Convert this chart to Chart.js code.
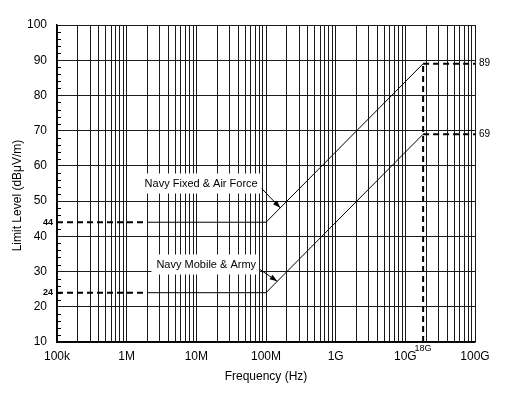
<!DOCTYPE html>
<html>
<head>
<meta charset="utf-8">
<script src="https://cdn.jsdelivr.net/npm/chart.js@4.4.0/dist/chart.umd.min.js"></script>
<style>
  html, body { margin: 0; padding: 0; background: #fff; }
  #wrap { width: 514px; height: 409px; }
</style>
</head>
<body>
<div id="wrap"><canvas id="limitChart"></canvas></div>
<script>
// frequency break points (Hz) and limit levels (dBuV/m)
const freqBreaks = [1e5, 2e6, 1e8, 1.8e10, 1e11];
const fixedLimit = [44, 44, 44, 89, 89];
const mobileLimit = [24, 24, 24, 69, 69];
const edgeFreq = 1.8e10;
const edgeLevels = [10, 89];

const xMajor = [1e5, 1e6, 1e7, 1e8, 1e9, 1e10, 1e11];
const xMajorLabels = ['100k', '1M', '10M', '100M', '1G', '10G', '100G'];

const leftMarks = [44, 24];
const rightMarks = [89, 69];

const seriesNames = ['Navy Fixed & Air Force', 'Navy Mobile & Army'];

const FONT = "'Liberation Sans', Arial, sans-serif";

function toPoints(xs, ys) {
  return xs.map((x, i) => ({ x: x, y: ys[i] }));
}

// dashed where the limit is not applicable (before 2M, after 18G)
const dashedSeg = ctx => (ctx.p0DataIndex === 0 || ctx.p0DataIndex === 3) ? [6, 4] : undefined;
const widthSeg = ctx => (ctx.p0DataIndex === 0 || ctx.p0DataIndex === 3) ? 2 : 1;

function limitDataset(label, ys) {
  return {
    label: label,
    data: toPoints(freqBreaks, ys),
    borderColor: '#000',
    borderWidth: 1,
    pointRadius: 0,
    fill: false,
    segment: { borderDash: dashedSeg, borderWidth: widthSeg }
  };
}

const overlay = {
  id: 'overlay',
  afterDatasetsDraw(chart) {
    const c = chart.ctx;
    const xs = chart.scales.x, ys = chart.scales.y;
    const area = chart.chartArea;
    c.save();

    // inward minor ticks on y axis
    c.strokeStyle = '#000';
    c.lineWidth = 1;
    for (let v = 12; v < 100; v += 2) {
      if (v % 10 === 0) continue;
      const py = Math.round(ys.getPixelForValue(v)) + 0.5;
      c.beginPath();
      c.moveTo(area.left, py);
      c.lineTo(area.left + 4, py);
      c.stroke();
    }

    // small value labels
    c.fillStyle = '#000';
    c.font = 'bold 9px ' + FONT;
    c.textAlign = 'right';
    c.textBaseline = 'middle';
    leftMarks.forEach(v => c.fillText(String(v), area.left - 4, ys.getPixelForValue(v)));
    c.font = '10px ' + FONT;
    c.textAlign = 'left';
    rightMarks.forEach(v => c.fillText(String(v), area.right + 4, ys.getPixelForValue(v)));
    c.font = '9px ' + FONT;
    c.textAlign = 'center';
    c.textBaseline = 'top';
    c.fillText('18G', xs.getPixelForValue(edgeFreq), area.bottom + 2);

    // y axis title, a little below the middle as in the source
    c.font = '12px ' + FONT;
    c.textBaseline = 'middle';
    c.translate(18, (area.top + area.bottom) / 2 + 12);
    c.rotate(-Math.PI / 2);
    c.fillText('Limit Level (dBμV/m)', 0, 0);
    c.setTransform(1, 0, 0, 1, 0, 0);
    c.scale(chart.currentDevicePixelRatio, chart.currentDevicePixelRatio);

    // callout labels with arrows
    const callouts = [
      { text: seriesNames[0], x: 7.6e7, y: 55, tipX: 1.6e8, tipLevel: fixedLimit },
      { text: seriesNames[1], x: 7.2e7, y: 32, tipX: 1.45e8, tipLevel: mobileLimit }
    ];
    c.font = '11px ' + FONT;
    callouts.forEach(o => {
      const right = xs.getPixelForValue(o.x);
      const cy = ys.getPixelForValue(o.y);
      const w = c.measureText(o.text).width;
      c.fillStyle = '#fff';
      c.fillRect(right - w - 5, cy - 10, w + 8, 20);
      c.fillStyle = '#000';
      c.textAlign = 'right';
      c.textBaseline = 'middle';
      c.fillText(o.text, right, cy);

      const lvl = o.tipLevel[2] + 20 * Math.log10(o.tipX / freqBreaks[2]);
      const tx = xs.getPixelForValue(o.tipX), ty = ys.getPixelForValue(lvl);
      const sx = right + 4, sy = cy + 5;
      const ang = Math.atan2(ty - sy, tx - sx);
      c.beginPath();
      c.moveTo(sx, sy);
      c.lineTo(tx, ty);
      c.stroke();
      c.beginPath();
      c.moveTo(tx, ty);
      c.lineTo(tx - 8 * Math.cos(ang - 0.35), ty - 8 * Math.sin(ang - 0.35));
      c.lineTo(tx - 8 * Math.cos(ang + 0.35), ty - 8 * Math.sin(ang + 0.35));
      c.closePath();
      c.fill();
    });

    c.restore();
  }
};

new Chart(document.getElementById('limitChart'), {
  type: 'line',
  data: {
    datasets: [
      limitDataset(seriesNames[0], fixedLimit),
      limitDataset(seriesNames[1], mobileLimit),
      {
        label: '18G',
        data: edgeLevels.map(v => ({ x: edgeFreq, y: v })),
        borderColor: '#000',
        borderWidth: 2,
        borderDash: [6, 4],
        pointRadius: 0
      }
    ]
  },
  options: {
    responsive: true,
    maintainAspectRatio: false,
    animation: false,
    layout: { padding: { top: 25, right: 39, bottom: 25, left: 0 } },
    plugins: { legend: { display: false }, tooltip: { enabled: false } },
    scales: {
      x: {
        type: 'logarithmic',
        min: 1e5,
        max: 1e11,
        afterBuildTicks(scale) {
          const t = [];
          for (let d = 1e5; d < 1e11; d *= 10) {
            for (let m = 1; m < 10; m++) t.push({ value: m * d });
          }
          t.push({ value: 1e11 });
          scale.ticks = t;
        },
        afterFit(scale) { scale.height = 42; },
        grid: { color: '#1a1a1a', lineWidth: 1, drawTicks: false },
        border: { color: '#000', width: 1.5 },
        ticks: {
          autoSkip: false,
          maxRotation: 0,
          padding: 7,
          color: '#000',
          font: { family: FONT, size: 12 },
          callback(value) {
            const i = xMajor.findIndex(v => Math.abs(v - value) / v < 1e-6);
            return i >= 0 ? xMajorLabels[i] : '';
          }
        },
        title: {
          display: true,
          text: 'Frequency (Hz)',
          color: '#000',
          font: { family: FONT, size: 12 },
          padding: { top: 4, bottom: 0 }
        }
      },
      y: {
        min: 10,
        max: 100,
        afterFit(scale) { scale.width = 57; },
        grid: { color: '#1a1a1a', lineWidth: 1, drawTicks: false },
        border: { color: '#000', width: 1.5 },
        ticks: {
          stepSize: 10,
          padding: 10,
          color: '#000',
          font: { family: FONT, size: 12 }
        }
      }
    }
  },
  plugins: [overlay]
});
</script>
</body>
</html>
